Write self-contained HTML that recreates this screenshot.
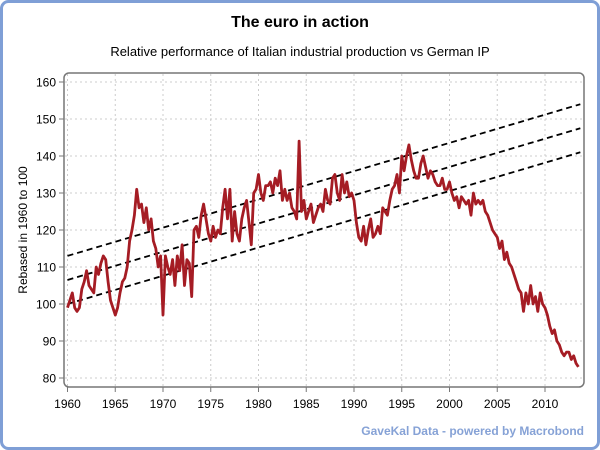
<!DOCTYPE html>
<html><head><meta charset="utf-8"><style>
html,body{margin:0;padding:0;background:#fff}
svg{display:block;font-family:"Liberation Sans",sans-serif}
</style></head><body>
<svg id="chart" width="600" height="450" viewBox="0 0 600 450">
<rect x="1.5" y="1.5" width="597" height="447" rx="7" fill="#fff" stroke="#7f9fd6" stroke-width="3"/>
<text x="300" y="27" text-anchor="middle" font-size="16" font-weight="bold" fill="#000">The euro in action</text>
<text x="300" y="56" text-anchor="middle" font-size="13" fill="#000">Relative performance of Italian industrial production vs German IP</text>
<g id="grid"></g>
<rect x="64" y="73" width="520" height="314" rx="5" fill="none" stroke="#777" stroke-width="1.5"/>
<g id="yaxis"></g>
<g id="xaxis"></g>
<text transform="translate(27,230) rotate(-90)" text-anchor="middle" font-size="12" fill="#000">Rebased in 1960 to 100</text>
<g id="trends"></g>
<path id="series" fill="none" stroke="#a51c24" stroke-width="2.8" stroke-linejoin="round"/>
<text x="584" y="435" text-anchor="end" font-size="12" font-weight="bold" fill="#86a2d6">GaveKal Data - powered by Macrobond</text>
</svg>
<script>
const yTicks=[80,90,100,110,120,130,140,150,160];
const xTicks=[1960,1965,1970,1975,1980,1985,1990,1995,2000,2005,2010];
const startYear=1960;
const values=[99,101,103,99,98,99,104,106,109,105,104,103,110,108,111,113,112,106,101,99,
97,99,103,106,107,110,117,120,124,131,126,127,122,126,120,123,117,115,110,113,
97,113,110,108,112,105,113,109,116,105,112,111,102,120,121,118,124,127,123,119,
117,121,118,120,119,126,131,123,131,117,125,119,117,123,126,128,122,116,130,131,
135,130,128,132,132,133,130,134,132,136,128,131,128,130,126,125,123,144,125,128,
123,125,127,122,124,126,127,125,131,128,127,134,135,130,128,135,130,133,129,130,
128,122,118,117,121,116,120,123,118,119,121,119,126,125,124,128,131,132,135,130,
140,136,140,143,139,136,134,134,138,140,137,134,136,135,133,132,132,134,131,131,
133,130,128,129,126,129,128,127,128,124,130,127,128,127,128,125,124,122,120,119,
118,115,117,112,114,111,110,108,106,104,103,98,103,100,105,100,102,98,103,100,
99,97,94,92,93,90,89,87,86,87,87,85,86,84,83];
const trendStart=[113,106.5,100];
const trendEnd=[154,147.5,141];
const trendYears=[1960,2013.7];
const NS="http://www.w3.org/2000/svg";
const X=y=>67.5+(y-1960)*9.55;
const Y=v=>378-(v-80)*3.7;
function mk(t,a,p){const e=document.createElementNS(NS,t);for(const k in a)e.setAttribute(k,a[k]);p.appendChild(e);return e;}
const grid=document.getElementById('grid'),ya=document.getElementById('yaxis'),xa=document.getElementById('xaxis');
yTicks.forEach(v=>{
 const l=mk('line',{x1:65,x2:583,y1:Y(v),y2:Y(v),stroke:'#ccc','stroke-dasharray':'2,3'},grid);
 
 
 const t=mk('line',{x1:59,x2:64,y1:Y(v),y2:Y(v),stroke:'#777'},ya);
 
 
 const tx=mk('text',{x:56,y:Y(v)+4.5,'text-anchor':'end','font-size':12},ya);tx.textContent=v;
 
 
});
xTicks.forEach(v=>{
 const l=mk('line',{x1:X(v),x2:X(v),y1:74,y2:386,stroke:'#ccc','stroke-dasharray':'2,3'},grid);
 
 
 const t=mk('line',{x1:X(v),x2:X(v),y1:387,y2:392,stroke:'#777'},xa);
 
 
 const tx=mk('text',{x:X(v),y:408,'text-anchor':'middle','font-size':12},xa);tx.textContent=v;
 
 
});
const tr=document.getElementById('trends');
trendStart.forEach((s,i)=>{
 const l=mk('line',{x1:X(trendYears[0]),y1:Y(s),x2:X(trendYears[1]),y2:Y(trendEnd[i]),stroke:'#000','stroke-width':1.8,'stroke-dasharray':'6,4'},tr);
 
 
});
document.getElementById('series').setAttribute('d',values.map((v,i)=>(i?'L':'M')+X(startYear+i*0.25).toFixed(1)+','+Y(v).toFixed(1)).join(''));
</script>
</body></html>
